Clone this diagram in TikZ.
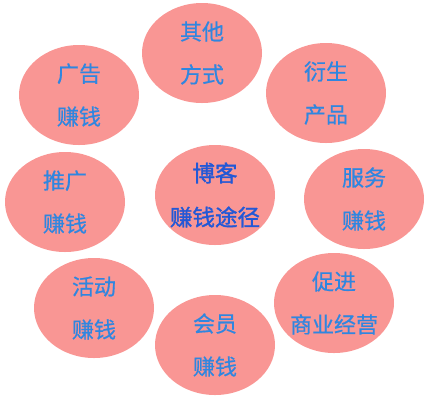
\documentclass[tikz,border=0pt]{standalone}
\usepackage{fontspec}
\newfontfamily\cjk[FakeBold=0.6]{Noto Sans CJK SC}
\newfontfamily\cjkhub[FakeBold=1.5]{Noto Sans CJK SC}
\definecolor{bubble}{HTML}{F99694}
\definecolor{txtblue}{HTML}{2F86E0}
\definecolor{hubblue}{HTML}{2358D6}
\usetikzlibrary{shapes.geometric}
\tikzset{
  bub/.style={ellipse, fill=bubble, minimum width=120pt, minimum height=100pt,
    inner xsep=-10pt, inner ysep=-10pt,
    align=center, font=\cjk\fontsize{22}{43}\selectfont, text=txtblue},
  hub/.style={bub, text=hubblue, font=\cjkhub\fontsize{22.5}{44}\selectfont}
}
\begin{document}
\begin{tikzpicture}[x=1pt,y=-1pt]
\useasboundingbox (0,0) rectangle (430,400);
\node[bub] (qita) at (202,53) {其他\\方式};
\node[bub] (guanggao) at (79,95) {广告\\赚钱};
\node[bub] (yansheng) at (326,93) {衍生\\产品};
\node[bub] (tuiguang) at (65,202) {推广\\赚钱};
\node[hub] (boke) at (215,195) {博客\\赚钱途径};
\node[bub] (fuwu) at (364,199) {服务\\赚钱};
\node[bub] (cujin) at (334,303) {促进\\商业经营};
\node[bub] (huiyuan) at (215,345) {会员\\赚钱};
\node[bub] (huodong) at (94,308) {活动\\赚钱};
\end{tikzpicture}
\end{document}
